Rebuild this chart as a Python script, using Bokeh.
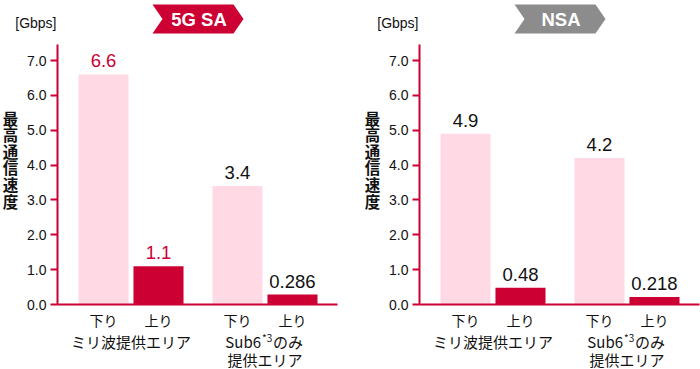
from bokeh.plotting import figure
from bokeh.models import (Range1d, LinearAxis, FixedTicker, NumeralTickFormatter, Label,
                          PolyAnnotation, ColumnDataSource)
from bokeh.layouts import row
from bokeh.embed import file_html
from bokeh.resources import INLINE
from bokeh.core.properties import value

# ---------------- data ----------------
groups = ["ミリ波提供エリア", "Sub6のみ提供エリア"]
directions = ["下り", "上り"]
sa_values = [6.6, 1.1, 3.4, 0.286]
nsa_values = [4.9, 0.48, 4.2, 0.218]
y_ticks = [0, 1, 2, 3, 4, 5, 6, 7]
y_max = 7.46
titles = ["5G SA", "NSA"]
unit_label = "[Gbps]"
y_title = "最高通信速度"

# ---------------- style / layout ----------------
RED = "#CC0033"
PINK = "#FFD9E3"
GRAY = "#8C8C8C"
BLACK = "#111111"
JP = "Noto Sans CJK JP"
LAT = "Liberation Sans"

H = 369
FRAME_TOP = 44          # pixel row of y = y_max
FRAME_BOTTOM = 304      # pixel row of y = 0
AXIS_LEFT = 57          # pixel column of the value axis
AXIS_RIGHT = 337        # pixel column where the base line ends
X0_PX = 75.5            # pixel column of category coordinate 0
UNIT = 55.0             # pixels per category step
GROUP_PAD = 0.436       # extra gap between the two groups (in category steps)
BAR_W = 0.91
PPU = (FRAME_BOTTOM - FRAME_TOP) / y_max


def sx(px):
    return (px - X0_PX) / UNIT


def sy(py):
    return (FRAME_BOTTOM - py) / PPU


n_dir = len(directions)
bar_x = [g * (n_dir + GROUP_PAD) + d + 0.5 for g in range(len(groups)) for d in range(n_dir)]
group_x = [g * (n_dir + GROUP_PAD) + n_dir / 2 for g in range(len(groups))]


def make_chart(vals, title, badge_color, label_colors, width):
    p = figure(width=width, height=H,
               x_range=Range1d(sx(0), sx(width)), y_range=Range1d(sy(H), sy(0)),
               output_backend="svg", toolbar_location=None,
               x_axis_location=None, y_axis_location=None,
               min_border=0)
    p.outline_line_color = None
    p.background_fill_color = "white"
    p.border_fill_color = "white"
    p.grid.visible = False

    yaxis = LinearAxis(ticker=FixedTicker(ticks=y_ticks),
                       formatter=NumeralTickFormatter(format="0.0"),
                       fixed_location=sx(AXIS_LEFT), bounds=(0, y_max))
    yaxis.axis_line_color = RED
    yaxis.axis_line_width = 2
    yaxis.major_tick_line_color = RED
    yaxis.major_tick_line_width = 2
    yaxis.major_tick_in = 0
    yaxis.major_tick_out = 7
    yaxis.minor_tick_line_color = None
    yaxis.major_label_text_font = LAT
    yaxis.major_label_text_font_size = "14px"
    yaxis.major_label_text_color = BLACK
    yaxis.major_label_standoff = 4
    p.add_layout(yaxis, "left")

    xaxis = LinearAxis(ticker=FixedTicker(ticks=[]), fixed_location=0,
                       bounds=(sx(AXIS_LEFT), sx(AXIS_RIGHT)))
    xaxis.axis_line_color = RED
    xaxis.axis_line_width = 2
    xaxis.major_tick_line_color = None
    xaxis.minor_tick_line_color = None
    xaxis.major_label_text_font_size = "0px"
    p.add_layout(xaxis, "below")

    src = ColumnDataSource(dict(
        x=bar_x, top=vals,
        color=[PINK, RED] * len(groups),
        label=[f"{v:g}" for v in vals],
        label_color=label_colors,
        direction=directions * len(groups),
    ))
    p.vbar(x="x", top="top", width=BAR_W, bottom=0, fill_color="color",
           line_color=None, source=src)
    p.text(x="x", y="top", text="label", text_color="label_color", source=src,
           text_align="center", text_baseline="bottom", y_offset=-7,
           text_font=value(LAT), text_font_size="18.5px")
    # category labels under the base line
    p.text(x="x", y=sy(319), text="direction", source=src, text_color=BLACK,
           text_align="center", text_baseline="middle",
           text_font=value(JP), text_font_size="14px")

    # badge
    bl, br = 152, 243
    p.add_layout(PolyAnnotation(
        xs=[sx(bl), sx(br - 10), sx(br), sx(br - 10), sx(bl), sx(bl + 10)],
        ys=[sy(4), sy(4), sy(18.5), sy(33), sy(33), sy(18.5)],
        fill_color=badge_color, fill_alpha=1, line_color=None))
    p.add_layout(Label(x=sx((bl + br) / 2 + 1), y=sy(19),
                       text=title, text_color="white", text_font=LAT,
                       text_font_style="bold", text_font_size="18.5px",
                       text_align="center", text_baseline="middle"))

    # unit label
    p.add_layout(Label(x=sx(AXIS_LEFT - 1), y=sy(22),
                       text=unit_label, text_color=BLACK, text_font=LAT,
                       text_font_size="14px", text_align="right", text_baseline="middle"))

    # vertical title, stacked characters
    for i, ch in enumerate(y_title):
        p.add_layout(Label(x=sx(10), y=sy(117 + i * 16.6),
                           text=ch, text_color=BLACK, text_font=JP, text_font_style="bold",
                           text_font_size="15.5px", text_align="center", text_baseline="middle"))

    # group labels
    y1, y2 = sy(341), sy(359)
    g0, g1 = group_x
    p.add_layout(Label(x=g0, y=y1, text="ミリ波提供エリア",
                       text_color=BLACK, text_font=JP, text_font_size="15px",
                       text_align="center", text_baseline="middle"))
    p.add_layout(Label(x=g1, y=y1, x_offset=-4, text="Sub6",
                       text_color=BLACK, text_font=JP, text_font_size="15px",
                       text_align="right", text_baseline="middle"))
    p.add_layout(Label(x=g1, y=sy(337), x_offset=-3, text="*3",
                       text_color=BLACK, text_font=JP, text_font_size="10px",
                       text_align="left", text_baseline="middle"))
    p.add_layout(Label(x=g1, y=y1, x_offset=8, text="のみ",
                       text_color=BLACK, text_font=JP, text_font_size="15px",
                       text_align="left", text_baseline="middle"))
    p.add_layout(Label(x=g1, y=y2, text="提供エリア",
                       text_color=BLACK, text_font=JP, text_font_size="15px",
                       text_align="center", text_baseline="middle"))
    return p


p1 = make_chart(sa_values, titles[0], RED, [RED, RED, BLACK, BLACK], 362)
p2 = make_chart(nsa_values, titles[1], GRAY, [BLACK] * 4, 338)
layout = row(p1, p2, spacing=0)

open("out.html", "w").write(file_html(layout, INLINE))
